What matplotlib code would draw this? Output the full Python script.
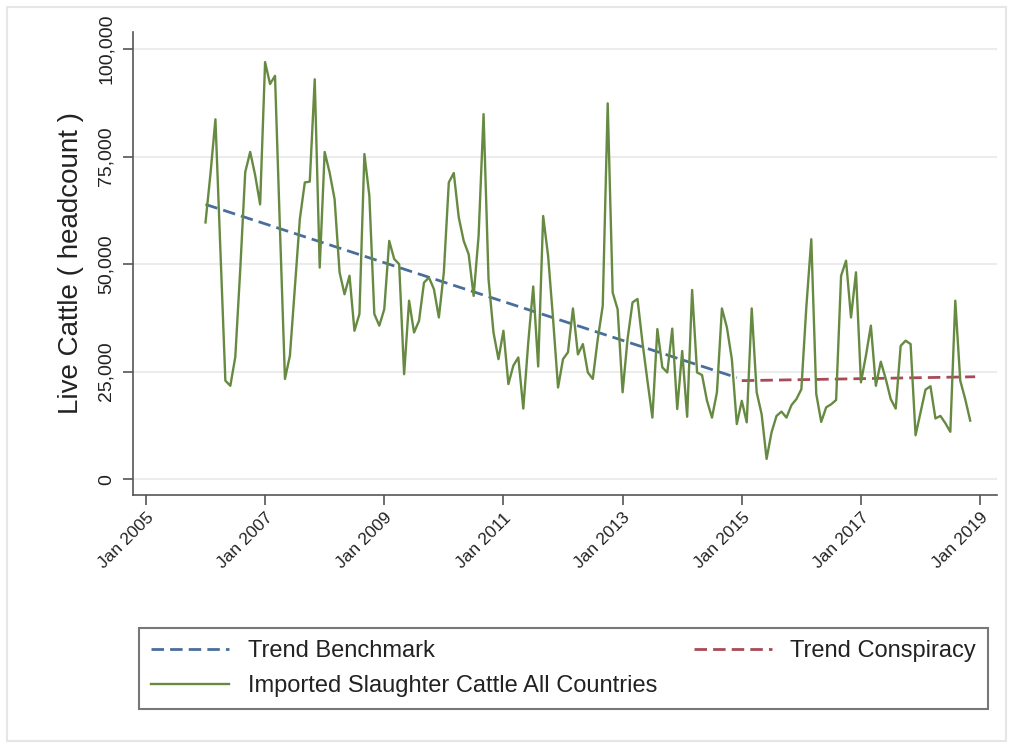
import numpy as np
import matplotlib.pyplot as plt
from matplotlib.patches import Rectangle

plt.rcParams['font.family'] = ['Liberation Sans', 'DejaVu Sans']

# imported slaughter cattle, monthly, Jan 2006 .. Nov 2018 (headcount)
cattle = [
    # 2006
    59700, 71000, 83700, 53000, 22900, 21700, 28400, 48800, 71400, 76100, 70700, 63900,
    # 2007
    97000, 91900, 93800, 58000, 23300, 28700, 44600, 60500, 69000, 69200, 93000, 49200,
    # 2008
    76100, 71300, 65100, 48100, 43000, 47300, 34500, 38400, 75600, 65900, 38400, 35700,
    # 2009
    39500, 55400, 51200, 50000, 24400, 41500, 34100, 36800, 45700, 46900, 44200, 37600,
    # 2010
    48100, 69000, 71200, 60900, 55400, 52300, 42600, 56600, 84900, 46500, 34100, 27900,
    # 2011
    34500, 22100, 26400, 28300, 16400, 31800, 44800, 26200, 61200, 51900, 37200, 21300,
    # 2012
    27900, 29500, 39700, 29000, 31400, 24800, 23300, 32600, 40300, 87400, 43400, 39500,
    # 2013
    20200, 32600, 41100, 41900, 31800, 22900, 14300, 34900, 26000, 24800, 35000, 16300,
    # 2014
    29800, 14500, 44000, 24800, 24200, 18200, 14300, 20200, 39700, 35300, 27900, 12800,
    # 2015
    18200, 13200, 39700, 20200, 15100, 4700, 10900, 14700, 15700, 14300, 17200, 18600,
    # 2016
    20900, 40000, 55800, 19800, 13300, 16700, 17400, 18400, 47300, 50800, 37600, 48100,
    # 2017
    22500, 28700, 35700, 21700, 27300, 23300, 18600, 16400, 31000, 32200, 31400, 10200,
    # 2018
    15500, 20800, 21600, 14100, 14700, 13000, 11000, 41500, 22900, 18600, 13600,
]
first_month = 12  # months after Jan 2005

# trend lines (start/end month index, start/end value)
bench_months = [12, 119]
bench_vals = [63900, 23600]
consp_months = [120, 167]
consp_vals = [22900, 23800]

tick_years = [2005, 2007, 2009, 2011, 2013, 2015, 2017, 2019]
y_ticks = [0, 25000, 50000, 75000, 100000]

months = np.arange(first_month, first_month + len(cattle))

fig = plt.figure(figsize=(10.13, 7.45), dpi=100)
fig.patches.append(Rectangle((7/1013, 4/745), 999/1013, 734/745, transform=fig.transFigure,
                             fill=False, edgecolor='#e6e6e6', linewidth=1.5))

ax = fig.add_axes([133/1013, 1 - 495/745, (997 - 133)/1013, (495 - 32)/745])

l_bench, = ax.plot(bench_months, bench_vals, color='#4a6e9c', lw=2, dashes=(4.5, 2.2))
l_consp, = ax.plot(consp_months, consp_vals, color='#a84a57', lw=2, dashes=(4.5, 2.2))
l_cattle, = ax.plot(months, cattle, color='#668a41', lw=1.7)

ax.set_xlim(-2.6, 171.4)
ax.set_ylim(-3700, 104000)

ax.set_xticks([(y - 2005) * 12 for y in tick_years])
ax.set_xticklabels(['Jan %d' % y for y in tick_years], rotation=45, ha='right',
                   rotation_mode='anchor', fontsize=12.5, color='#222222')
ax.set_yticks(y_ticks)
ax.set_yticklabels(['{:,}'.format(v) for v in y_ticks], rotation=90, va='center',
                   fontsize=14, color='#222222')
ax.tick_params(axis='both', direction='out', length=7, width=1.2, color='#555555')
ax.tick_params(axis='y', pad=6)
ax.tick_params(axis='x', pad=4)

ax.grid(axis='y', color='#ececec', lw=1.5)
ax.set_axisbelow(True)
for s in ['top', 'right']:
    ax.spines[s].set_visible(False)
for s in ['left', 'bottom']:
    ax.spines[s].set_color('#555555')
    ax.spines[s].set_linewidth(1.2)

ax.set_ylabel('Live Cattle ( headcount )', fontsize=20, color='#222222')
ax.yaxis.set_label_coords(-0.057, 0.5)

leg = fig.legend([l_bench, l_cattle, l_consp],
                 ['Trend Benchmark', 'Imported Slaughter Cattle All Countries', 'Trend Conspiracy'],
                 ncol=2, loc='center', mode='expand', borderaxespad=0,
                 bbox_to_anchor=(139/1013, 1 - 710/745, (988 - 139)/1013, 83/745),
                 fontsize=17, frameon=True, fancybox=False, edgecolor='#555555',
                 handlelength=3.3, handletextpad=0.8, labelspacing=0.55, borderpad=0.5)
leg.get_frame().set_linewidth(1.5)
for t in leg.get_texts():
    t.set_color('#222222')

fig.savefig('out.png', dpi=100, facecolor='white')
